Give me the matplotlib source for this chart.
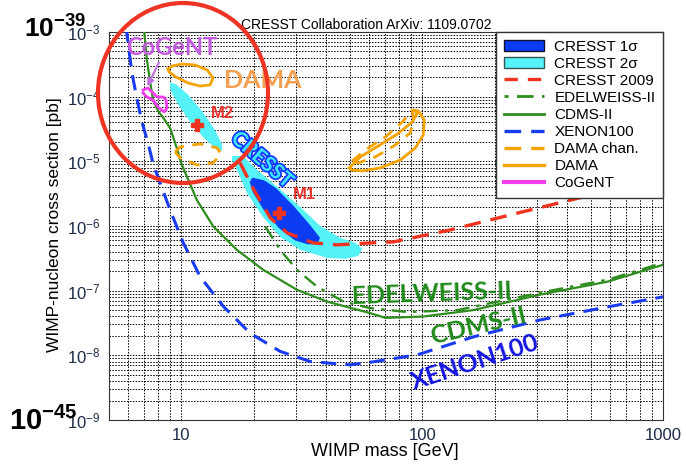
import matplotlib
matplotlib.use('Agg')
import matplotlib.pyplot as plt
import matplotlib.patheffects as pe
from matplotlib.patches import Ellipse, Patch
from matplotlib.lines import Line2D
from matplotlib.ticker import FuncFormatter, NullFormatter
import numpy as np

plt.rcParams['font.family'] = ['Liberation Sans', 'DejaVu Sans']
plt.rcParams['mathtext.fontset'] = 'custom'
plt.rcParams['mathtext.rm'] = 'Liberation Sans'
plt.rcParams['mathtext.bf'] = 'Liberation Sans:bold'
plt.rcParams['mathtext.it'] = 'Liberation Sans:italic'

# WIMP mass [GeV] / cross section [pb]
xenon_m = [5.85, 5.93, 6.21, 6.52, 6.84, 7.29, 7.64, 8.97, 10.19, 11.95, 14.94, 19.29,
           25.7, 34.3, 50.2, 62.7, 95.4, 163, 310, 589, 1000]
xenon_s = [1.2e-3, 9.7e-4, 2.47e-4, 9.55e-5, 4.17e-5, 1.81e-5, 8.89e-6, 1.77e-6, 5.42e-7,
           1.65e-7, 5.68e-8, 2.20e-8, 1.15e-8, 8.02e-9, 7.13e-9, 7.94e-9, 1.02e-8,
           1.93e-8, 3.54e-8, 5.62e-8, 8.02e-8]

cdms_m = [6.95, 7.01, 7.17, 7.40, 7.64, 8.02, 8.41, 8.97, 9.56, 10.03, 11.58, 13.57, 16.98,
          21.9, 30.2, 40.2, 60.8, 70.3, 101, 163, 310, 589, 1000]
cdms_s = [1.2e-3, 9.7e-4, 3.96e-4, 1.73e-4, 8.49e-5, 5.94e-5, 4.69e-5, 3.28e-5, 1.61e-5,
          8.89e-6, 2.53e-6, 9.79e-7, 4.28e-7, 2.09e-7, 1.03e-7, 6.79e-8, 4.49e-8, 3.80e-8,
          3.98e-8, 5.01e-8, 8.71e-8, 1.38e-7, 2.51e-7]

edel_m = [22.3, 25.7, 30.2, 36.5, 47.1, 60.8, 86.7, 140, 310, 589, 1000]
edel_s = [9.79e-7, 4.28e-7, 2.09e-7, 1.16e-7, 6.79e-8, 5.37e-8, 4.68e-8, 5.01e-8,
          9.33e-8, 1.48e-7, 2.69e-7]

cresst09_m = [17.5, 19.7, 23.4, 27.5, 35.2, 44.4, 60.8, 75.8, 131, 248, 468, 1000]
cresst09_s = [9.55e-6, 3.98e-6, 1.33e-6, 7.82e-7, 5.48e-7, 5.11e-7, 5.48e-7, 5.68e-7,
              8.71e-7, 1.58e-6, 2.82e-6, 5.62e-6]

# CRESST allowed regions (contours)
c1s_m1_m = [19.7, 22.0, 24.6, 29.2, 34.3, 37.6, 36.8, 33.5, 29.6, 25.4, 21.9, 19.8, 19.2]
c1s_m1_s = [5.6e-6, 5.1e-6, 3.9e-6, 2.05e-6, 1.02e-6, 6.6e-7, 5.3e-7, 5.2e-7, 6.0e-7,
            9.3e-7, 1.8e-6, 3.3e-6, 4.8e-6]
c2s_m1_m = [16.2, 18.0, 20.6, 25.0, 31.1, 37.7, 45.6, 52.7, 56.4, 54.2, 47.9, 40.3, 31.1,
            25.7, 21.8, 18.7, 17.0, 16.2]
c2s_m1_s = [1.21e-5, 1.21e-5, 7.36e-6, 4.02e-6, 1.97e-6, 1.00e-6, 6.55e-7, 5.48e-7,
            4.43e-7, 3.45e-7, 3.10e-7, 3.21e-7, 4.28e-7, 6.79e-7, 1.38e-6, 3.25e-6,
            7.36e-6, 1.05e-5]
c2s_m2_m = [14.75, 14.71, 13.69, 12.17, 10.65, 9.52, 8.95, 8.99, 9.66, 10.87, 12.42, 13.89]
c2s_m2_s = [1.47e-5, 1.88e-5, 3.16e-5, 5.96e-5, 1.07e-4, 1.55e-4, 1.66e-4, 1.27e-4,
            7.67e-5, 4.07e-5, 2.29e-5, 1.58e-5]
best_m = [25.3, 11.6]
best_s = [1.6e-6, 3.7e-5]

# DAMA regions
dama_lo_m = [8.80, 9.14, 10.06, 11.39, 12.78, 13.53, 13.15, 11.95, 10.65, 9.50, 8.88]
dama_lo_s = [2.68e-4, 2.98e-4, 3.20e-4, 3.09e-4, 2.59e-4, 1.95e-4, 1.52e-4, 1.46e-4,
             1.63e-4, 2.01e-4, 2.41e-4]
dama_hi_m = [49.8, 55.3, 65.7, 78.8, 90.9, 95.4, 92.0, 96.3, 102, 101, 93.6, 81.1, 66.9,
             56.4, 50.7]
dama_hi_s = [7.91e-6, 1.17e-5, 1.73e-5, 2.65e-5, 4.06e-5, 5.60e-5, 6.22e-5, 6.01e-5,
             4.37e-5, 2.56e-5, 1.61e-5, 1.05e-5, 7.91e-6, 7.11e-6, 7.36e-6]
damac_lo_m = [9.41, 9.87, 11.95, 14.07, 14.61, 13.53, 11.61, 9.87]
damac_lo_s = [1.40e-5, 1.67e-5, 1.86e-5, 1.61e-5, 1.30e-5, 9.44e-6, 8.79e-6, 1.13e-5]
damac_hi_m = [51.2, 58.0, 70.2, 82.7, 90.9, 92.0, 89.2, 77.3, 63.8, 54.2]
damac_hi_s = [1.01e-5, 1.50e-5, 2.38e-5, 4.06e-5, 6.22e-5, 4.69e-5, 2.75e-5, 1.79e-5,
              1.17e-5, 9.44e-6]

cogent_m = [6.92, 7.26, 7.92, 8.39, 8.63, 8.71, 8.47, 7.99, 7.62, 7.19, 6.92]
cogent_s = [1.27e-4, 1.36e-4, 9.89e-5, 9.89e-5, 8.89e-5, 6.68e-5, 5.81e-5, 6.93e-5,
            8.89e-5, 9.89e-5, 1.14e-4]

C_BLUE1 = '#0b3cf2'
C_CYAN = '#55f2f8'
C_RED = '#f0321e'
C_GREEN = '#2f8c1e'
C_XE = '#1a3cf0'
C_ORANGE = '#f5a300'
C_COGENT = '#f23ef0'


def closed(a):
    return list(a) + [a[0]]


fig = plt.figure(figsize=(6.86, 4.66), dpi=100)
ax = fig.add_axes([0.1589, 0.0987, 0.8076, 0.8326])
ax.set_xscale('log')
ax.set_yscale('log')
ax.set_xlim(5, 1000)
ax.set_ylim(1e-9, 1e-3)
ax.xaxis.set_major_formatter(FuncFormatter(lambda v, p: f'{v:g}'))
ax.xaxis.set_minor_formatter(NullFormatter())

ax.set_axisbelow(True)
ax.grid(which='both', color='k', ls=(0, (1.5, 1.5)), lw=0.7)
ax.tick_params(which='both', direction='in', length=0, labelsize=12,
               labelcolor='#1d2a48', pad=6)
for s in ax.spines.values():
    s.set_color('#333333')

# allowed regions
ax.fill(c2s_m1_m, c2s_m1_s, color=C_CYAN, lw=0, zorder=2)
ax.fill(c2s_m2_m, c2s_m2_s, color=C_CYAN, lw=0, zorder=2)
ax.fill(c1s_m1_m, c1s_m1_s, color=C_BLUE1, lw=0, zorder=3)

# limits
ax.plot(cresst09_m, cresst09_s, color=C_RED, ls=(0, (5, 3)), lw=2.4, zorder=4)
ax.plot(edel_m, edel_s, color=C_GREEN, ls=(0, (6, 3, 1.5, 3)), lw=1.7, zorder=4)
ax.plot(cdms_m, cdms_s, color=C_GREEN, lw=1.6, zorder=4)
ax.plot(xenon_m, xenon_s, color=C_XE, ls=(0, (5, 3)), lw=2.2, zorder=4)

ax.plot(closed(damac_lo_m), closed(damac_lo_s), color=C_ORANGE, ls=(0, (4, 3)), lw=2, zorder=4)
ax.plot(closed(damac_hi_m), closed(damac_hi_s), color=C_ORANGE, ls=(0, (4, 3)), lw=2, zorder=4)
ax.plot(closed(dama_lo_m), closed(dama_lo_s), color=C_ORANGE, lw=2, zorder=4)
ax.plot(closed(dama_hi_m), closed(dama_hi_s), color=C_ORANGE, lw=2, zorder=4)
ax.plot(cogent_m, cogent_s, color=C_COGENT, lw=2, zorder=4)

ax.plot(best_m, best_s, ls='none', marker='P', ms=9, color=C_RED, mec=C_RED, zorder=5)

ax.set_xlabel('WIMP mass [GeV]', fontsize=13)
ax.set_ylabel('WIMP-nucleon cross section [pb]', fontsize=12.5)
ax.xaxis.set_label_coords(0.498, -0.06)
ax.yaxis.set_label_coords(-0.085, 0.503)

# legend
handles = [
    Patch(facecolor=C_BLUE1, edgecolor='#101030', lw=1),
    Patch(facecolor=C_CYAN, edgecolor='#335555', lw=1),
    Line2D([], [], color=C_RED, ls=(0, (4, 3)), lw=2.4),
    Line2D([], [], color=C_GREEN, ls=(0, (1.5, 3, 6, 3)), lw=2),
    Line2D([], [], color=C_GREEN, lw=2),
    Line2D([], [], color=C_XE, ls=(0, (5, 3)), lw=2.4),
    Line2D([], [], color=C_ORANGE, ls=(0, (5, 3)), lw=2.4),
    Line2D([], [], color=C_ORANGE, lw=2.4),
    Line2D([], [], color=C_COGENT, lw=3),
]
labels = ['CRESST 1\u03c3', 'CRESST 2\u03c3', 'CRESST 2009', 'EDELWEISS-II', 'CDMS-II',
          'XENON100', 'DAMA chan.', 'DAMA', 'CoGeNT']
leg = ax.legend(handles, labels, loc='upper right', bbox_to_anchor=(1, 1),
                borderaxespad=0, fontsize=11, fancybox=False, framealpha=1,
                edgecolor='#333333', handlelength=2.6, handletextpad=0.7,
                labelspacing=0.2, borderpad=0.5)
leg.get_frame().set_linewidth(1)
leg.set_zorder(10)

# annotations
lab = ['Lato', 'DejaVu Sans']
ax.text(9.14, 5.86e-4, 'CoGeNT', color='#c45ade', fontsize=17, fontweight='bold',
        family=lab, ha='center', va='center', zorder=6)
ax.annotate('', xy=(7.13, 1.32e-4), xytext=(8.15, 3.69e-4),
            arrowprops=dict(arrowstyle='-|>', color='#c070e0', lw=1.5), zorder=6)
ax.text(21.8, 1.81e-4, 'DAMA', color='#f5a050', fontsize=18, fontweight='bold',
        family=lab, ha='center', va='center', zorder=6)
ax.text(14.8, 5.4e-5, 'M2', color='#e8332a', fontsize=12, fontweight='bold',
        ha='center', va='center', zorder=6)
ax.text(32.4, 3.03e-6, 'M1', color='#e8332a', fontsize=12, fontweight='bold',
        ha='center', va='center', zorder=6)
ax.text(21.6, 1.05e-5, 'CRESST', color='#40e4ff', fontsize=15, fontweight='bold',
        family=lab, ha='center', va='center', rotation=-41, zorder=6,
        path_effects=[pe.withStroke(linewidth=2.5, foreground='#1038ff')])
ax.text(110, 8.93e-8, 'EDELWEISS-II', color='#1f8a1a', fontsize=18, fontweight='bold',
        family=lab, ha='center', va='center', rotation=2, zorder=6)
ax.text(171, 2.86e-8, 'CDMS-II', color='#1f8a1a', fontsize=18, fontweight='bold',
        family=lab, ha='center', va='center', rotation=13, zorder=6)
ax.text(166, 7.94e-9, 'XENON100', color='#1414e0', fontsize=18, fontweight='bold',
        family=lab, ha='center', va='center', rotation=18, zorder=6)

fig.text(0.534, 1 - 25 / 466, 'CRESST Collaboration ArXiv: 1109.0702', fontsize=10,
         ha='center', va='center')

fig.text(24 / 686, 1 - 38 / 466, r'$\mathbf{10^{-39}}$', fontsize=19, ha='left',
         va='baseline')
fig.text(9 / 686, 1 - 430 / 466, r'$\mathbf{10^{-45}}$', fontsize=21, ha='left',
         va='baseline')

circ = Ellipse((183 / 686, 1 - 93 / 466), 170 / 686, 180 / 466, transform=fig.transFigure,
               fill=False, edgecolor='#ee3524', lw=3, zorder=20)
fig.patches.append(circ)

fig.savefig('out.png', dpi=100)
